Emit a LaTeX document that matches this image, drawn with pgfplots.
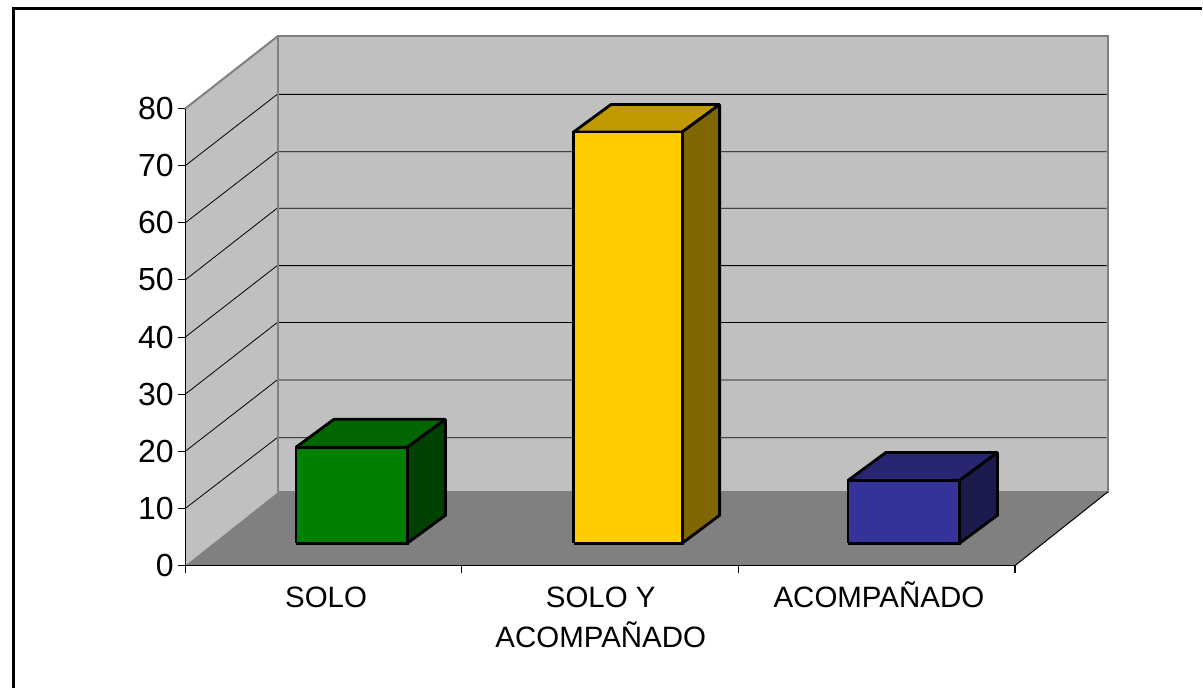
\documentclass[border=0pt]{standalone}
\usepackage{fontspec}
\setmainfont{Liberation Sans}
\usepackage{pgfplots}
\pgfplotsset{compat=1.18}

\definecolor{wall}{HTML}{C0C0C0}
\definecolor{floorc}{HTML}{808080}
\definecolor{greenF}{HTML}{008000}
\definecolor{greenT}{HTML}{006600}
\definecolor{greenS}{HTML}{004000}
\definecolor{yellowF}{HTML}{FFCC00}
\definecolor{yellowT}{HTML}{C09A00}
\definecolor{yellowS}{HTML}{806600}
\definecolor{blueF}{HTML}{333399}
\definecolor{blueT}{HTML}{262673}
\definecolor{blueS}{HTML}{1A1A4D}

\newcommand{\lab}{\rule{0pt}{26pt}}

\begin{document}
\begin{tikzpicture}
\begin{axis}[
    scale only axis,
    width=830.8pt, height=457.6pt,
    xmin=184.5, xmax=1015.3, ymin=0, ymax=80,
    clip=false,
    no markers,
    axis on top,
    axis x line*=bottom,
    axis y line*=left,
    axis line style={black, line width=1.2pt},
    tick style={black, line width=1.1pt},
    tick align=outside,
    major tick length=7.5pt,
    ytick={0,10,20,30,40,50,60,70,80},
    xtick={184.5,461.5,738,1015.3},
    xticklabels={},
    extra x ticks={325.5,600.5,879},
    extra x tick labels={\lab SOLO,{\lab SOLO Y\\ACOMPAÑADO},\lab ACOMPAÑADO},
    extra x tick style={tick style={draw=none}},
    /pgf/number format/assume math mode=true,
    yticklabel style={font=\fontsize{32}{36}\selectfont, inner sep=0pt, xshift=-4pt},
    xticklabel style={font=\fontsize{29.5}{40}\selectfont, align=center, anchor=north, inner sep=0pt, yshift=-8.5pt},
    every axis plot/.append style={miter limit=2},
]
% page size
\path (axis cs:-1,99.0) rectangle (axis cs:1202,-21.47);

% outer frame, top and left only
\addplot[black, line width=3pt] coordinates {(13,-21.47) (13,97.5) (1202,97.5)};

% walls and floor
\addplot[fill=wall, draw=floorc, line width=2pt] coordinates {(277.5,12.87) (1108,12.87) (1108,92.72) (277.5,92.72) (277.5,12.87)};
\addplot[fill=wall, draw=none] coordinates {(184.5,0) (277.5,12.87) (277.5,92.72) (184.5,80) (184.5,0)};
\addplot[fill=floorc, draw=none] coordinates {(184.5,0) (277.5,12.87) (1108,12.87) (1015.3,0) (184.5,0)};
\addplot[floorc, line width=2pt] coordinates {(277.5,12.87) (277.5,92.72)};
\addplot[floorc, line width=2pt] coordinates {(184.5,80) (277.5,92.72)};
\addplot[black, line width=1pt] coordinates {(1015.3,0) (1108,12.87)};

% gridlines, side wall and back wall
\addplot[black, line width=0.8pt] coordinates {(184.5,10) (276.5,22.38) (1107,22.38)};
\addplot[black, line width=0.8pt] coordinates {(184.5,20) (276.5,32.48) (1107,32.48)};
\addplot[black, line width=0.8pt] coordinates {(184.5,30) (276.5,42.53) (1107,42.53)};
\addplot[black, line width=0.8pt] coordinates {(184.5,40) (276.5,52.5) (1107,52.5)};
\addplot[black, line width=0.8pt] coordinates {(184.5,50) (276.5,62.56) (1107,62.56)};
\addplot[black, line width=0.8pt] coordinates {(184.5,60) (276.5,72.43) (1107,72.43)};
\addplot[black, line width=0.8pt] coordinates {(184.5,70) (276.5,82.48) (1107,82.48)};
\addplot[floorc, line width=2pt] coordinates {(277.5,12.87) (277.5,92.72)};

% SOLO
\addplot[fill=greenT, draw=black, line width=2.8pt] coordinates {(295.3,20.7) (333.3,25.6) (445,25.6) (406.7,20.7) (295.3,20.7)};
\addplot[fill=greenS, draw=black, line width=2.8pt] coordinates {(406.7,3.9) (445,8.8) (445,25.6) (406.7,20.7) (406.7,3.9)};
\addplot[fill=greenF, draw=black, line width=2.8pt] coordinates {(295.3,3.9) (406.7,3.9) (406.7,20.7) (295.3,20.7) (295.3,3.9)};

% SOLO Y ACOMPAÑADO
\addplot[fill=yellowT, draw=black, line width=2.8pt] coordinates {(573.3,75.9) (610.7,80.7) (719.5,80.7) (682,75.9) (573.3,75.9)};
\addplot[fill=yellowS, draw=black, line width=2.8pt] coordinates {(682,3.9) (719.5,8.8) (719.5,80.7) (682,75.9) (682,3.9)};
\addplot[fill=yellowF, draw=black, line width=2.8pt] coordinates {(573.3,3.9) (682,3.9) (682,75.9) (573.3,75.9) (573.3,3.9)};

% ACOMPAÑADO
\addplot[fill=blueT, draw=black, line width=2.8pt] coordinates {(848,14.9) (886,19.8) (997.7,19.8) (959.7,14.9) (848,14.9)};
\addplot[fill=blueS, draw=black, line width=2.8pt] coordinates {(959.7,3.9) (997.7,8.8) (997.7,19.8) (959.7,14.9) (959.7,3.9)};
\addplot[fill=blueF, draw=black, line width=2.8pt] coordinates {(848,3.9) (959.7,3.9) (959.7,14.9) (848,14.9) (848,3.9)};
\end{axis}
\end{tikzpicture}
\end{document}
